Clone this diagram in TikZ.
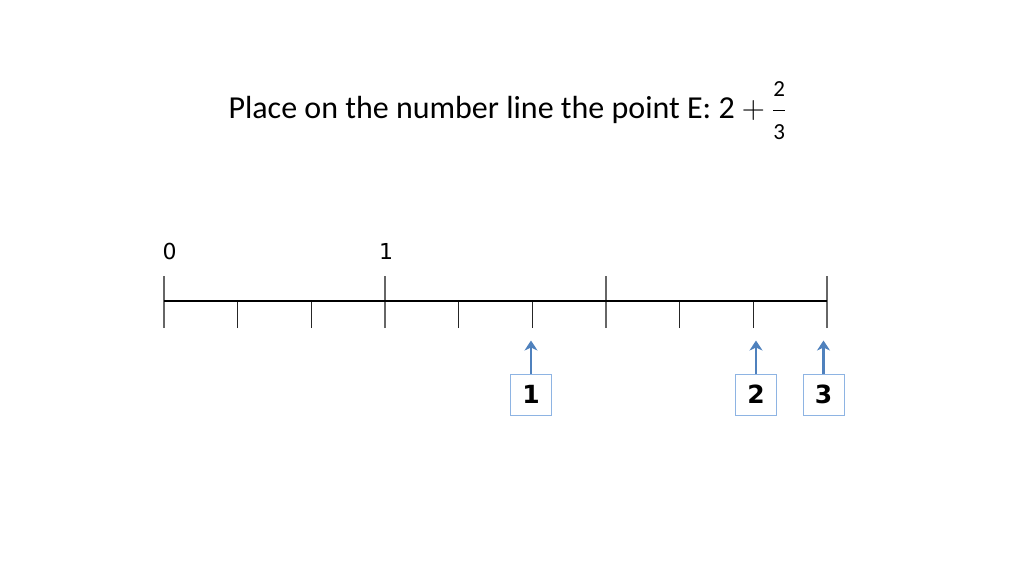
\RequirePackage{fix-cm}
\documentclass[tikz,border=0pt]{standalone}
\usepackage{amsmath}
\usepackage{fontspec}
\setmainfont{Carlito}
\newfontfamily\labelfont{DejaVu Sans}
\usetikzlibrary{arrows.meta,positioning}
\definecolor{boxblue}{HTML}{8EB4E3}
\definecolor{arrowblue}{HTML}{4F81BD}
\newcommand{\fracdigit}[1]{\text{\fontsize{23}{23}\selectfont #1}}

\begin{document}
\begin{tikzpicture}[x=1pt,y=-1pt,
      tick/.style={draw=black!85,line width=1.1pt},
      bigtick/.style={draw=black!60,line width=1.2pt},
      axis/.style={draw=black,line width=1.1pt},
      box/.style={draw=boxblue,line width=0.9pt,minimum width=41pt,minimum height=41pt,inner sep=0pt,
        font=\labelfont\bfseries\fontsize{25}{25}\selectfont},
      pointer/.style={draw=arrowblue,line width=2.8pt,-{Stealth[length=10pt,width=13pt,inset=3pt]}},
      numlabel/.style={anchor=base,font=\labelfont\fontsize{22}{22}\selectfont}
    ]
      \useasboundingbox (0,0) rectangle (1024,576);
      \node[anchor=base west,font=\fontsize{32}{32}\selectfont] (title) at (225,118)
        {Place on the number line the point E: $\text{2}+\genfrac{}{}{}{0}{\fracdigit{2}}{\fracdigit{3}}$};

      % ticks of the number line
      \foreach \i in {0,...,9} {
        \coordinate (t\i) at ({164+73.67*\i},328);
        \coordinate (a\i) at ({164+73.67*\i},301);
      }
      \foreach \i in {1,2,4,5,7,8}
        \draw[tick] (t\i) -- (a\i);
      \foreach \i in {0,3,6,9}
        \draw[bigtick] (t\i) -- ++(0,-52);
      \draw[axis] (a0) -- (a9);

      \node[numlabel] (n0) at (169.5,259) {0};
      \node[numlabel] (n1) at (386,259) {1};

      \node[box] (b1) at (531,394.5) {1};
      \node[box] (b2) at (756,394.5) {2};
      \node[box] (b3) at (823.5,394.5) {3};

      \draw[pointer,shorten >=12.5pt] (b1.north) -- (b1.north |- t5);
      \draw[pointer,shorten >=12.5pt] (b2.north) -- (b2.north |- t8);
      \draw[pointer,shorten >=12.5pt] (b3.north) -- (b3.north |- t9);
    \end{tikzpicture}
\end{document}
